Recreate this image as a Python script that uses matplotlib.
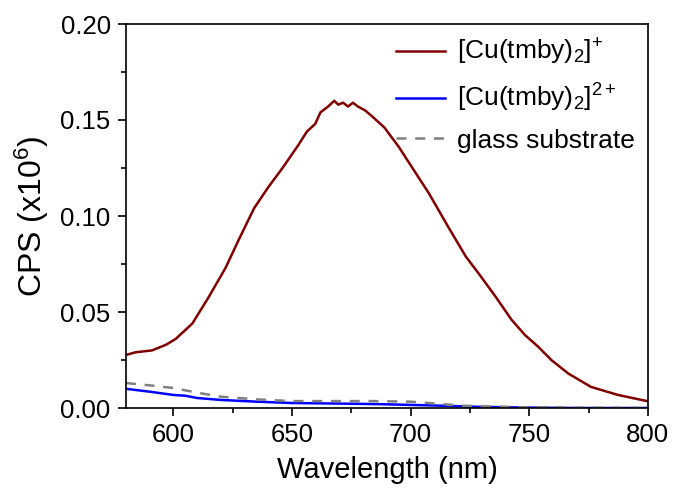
import matplotlib
matplotlib.use("Agg")
import matplotlib.pyplot as plt
from matplotlib.ticker import MultipleLocator

plt.rcParams['font.family'] = ['Liberation Sans', 'DejaVu Sans']
plt.rcParams['mathtext.fontset'] = 'custom'
plt.rcParams['mathtext.rm'] = 'Liberation Sans'
plt.rcParams['mathtext.it'] = 'Liberation Sans:italic'

# values (CPS in units of 1e6)
wl_cu1 = [580, 584, 591, 597, 601, 608, 615, 622, 627.5, 634, 640, 646, 652.7,
          656.3, 659.8, 662, 665.2, 667.8, 669.5, 671.6, 673.6, 675.7, 677.8,
          680.8, 683.7, 689, 692, 695, 700.5, 707.6, 716, 723.2, 728.7, 735.8,
          742.5, 748.2, 753.7, 759.3, 766.4, 776, 787.4, 800]
cps_cu1 = [0.0276, 0.029, 0.030, 0.033, 0.036, 0.044, 0.058, 0.073, 0.0875, 0.104,
           0.115, 0.125, 0.137, 0.144, 0.148, 0.154, 0.157, 0.160, 0.158, 0.159,
           0.157, 0.159, 0.157, 0.155, 0.152, 0.146, 0.141, 0.136, 0.1255, 0.112,
           0.094, 0.079, 0.070, 0.058, 0.046, 0.038, 0.032, 0.025, 0.018, 0.011,
           0.0068, 0.0035]

wl_cu2 = [580, 590, 600, 605, 610, 620, 635, 650, 670, 687, 710, 729, 750, 770, 800]
cps_cu2 = [0.010, 0.0085, 0.0068, 0.0064, 0.0052, 0.0042, 0.0033, 0.0026, 0.0023,
           0.0020, 0.0013, 0.0006, 0.0002, 0.0, 0.0]

wl_glass = [580, 590, 600, 610, 620, 635, 650, 665, 684, 700, 722, 750, 775, 800]
cps_glass = [0.013, 0.0118, 0.0104, 0.0080, 0.0059, 0.0045, 0.0036, 0.0036, 0.0036,
             0.0033, 0.0012, 0.0003, 0.0001, 0.0]

fig = plt.figure(figsize=(6.77, 5.0), dpi=100)
ax = fig.add_axes([0.186, 0.184, 0.771, 0.768])

ax.plot(wl_cu1, cps_cu1, color='#800000', lw=1.8, label=r'[Cu(tmby)$_\mathregular{2}$]$^\mathregular{+}$')
ax.plot(wl_cu2, cps_cu2, color='#0000ff', lw=1.8, label=r'[Cu(tmby)$_\mathregular{2}$]$^\mathregular{2+}$')
ax.plot(wl_glass, cps_glass, color='#808080', lw=1.8, ls=(0, (4, 3.5)), label='glass substrate')

ax.set_xlim(580, 800)
ax.set_ylim(0, 0.20)
ax.xaxis.set_major_locator(MultipleLocator(50))
ax.xaxis.set_minor_locator(MultipleLocator(25))
ax.yaxis.set_major_locator(MultipleLocator(0.05))
ax.yaxis.set_minor_locator(MultipleLocator(0.025))
ax.yaxis.set_major_formatter(plt.FormatStrFormatter('%.2f'))
ax.tick_params(which='major', direction='out', length=6, width=1.2, labelsize=18.5, pad=5)
ax.tick_params(which='minor', direction='out', length=3.5, width=1.2)
for s in ax.spines.values():
    s.set_linewidth(1.2)

ax.set_xlabel('Wavelength (nm)', fontsize=21, labelpad=6)
ax.set_ylabel(r'CPS (x10$^\mathregular{6}$)', fontsize=23, labelpad=7)

ax.legend(loc='upper right', frameon=False, fontsize=19, handlelength=1.85,
          handletextpad=0.45, labelspacing=0.55, borderaxespad=0.1)

fig.savefig('out.png', dpi=100)
